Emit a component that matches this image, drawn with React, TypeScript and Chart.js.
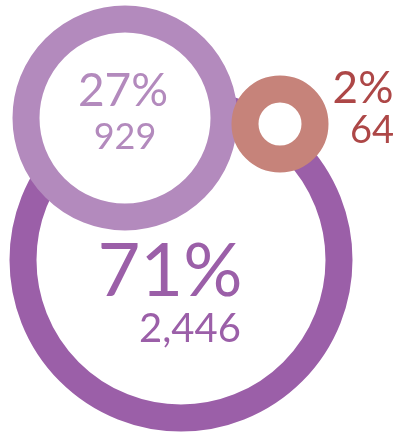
import React, { useEffect, useRef } from "react";
import { Chart, registerables } from "chart.js";

Chart.register(...registerables);

const categories = ["Group A", "Group B", "Group C"];
const counts = [2446, 929, 64];
const percents = [71, 27, 2];
const xPos = [181, 125, 280];
const yPos = [260, 118, 124];
const radii = [158, 99, 35];

const ringColors = ["#9b5fa8", "#b38abd", "#c6837a"];
const textColors = ["#9b5fa8", "#b38abd", "#ad4747"];

// label layout (baseline offsets): [dxPct, dyPct, sizePct, dxCount, dyCount, sizeCount]
const labelLayout = [
  [-11, 36, 74, 9, 82, 40],
  [-2, -12, 46, 0, 31, 36],
  [83, -21, 44, 92, 19, 38],
];

const labelPlugin = {
  id: "ringLabels",
  afterDatasetsDraw(chart: any) {
    const ctx = chart.ctx;
    const meta = chart.getDatasetMeta(0);
    meta.data.forEach((el: any, i: number) => {
      const [dx1, dy1, s1, dx2, dy2, s2] = labelLayout[i];
      ctx.save();
      ctx.fillStyle = textColors[i];
      ctx.textAlign = "center";
      ctx.textBaseline = "alphabetic";
      ctx.font = `${s1}px Lato, "Noto Sans", sans-serif`;
      ctx.fillText(`${percents[i]}%`, el.x + dx1, el.y + dy1);
      ctx.font = `${s2}px Lato, "Noto Sans", sans-serif`;
      ctx.fillText(counts[i].toLocaleString("en-US"), el.x + dx2, el.y + dy2);
      ctx.restore();
    });
  },
};

export default function App() {
  const ref = useRef<HTMLCanvasElement | null>(null);
  useEffect(() => {
    if (!ref.current) return;
    const chart = new Chart(ref.current, {
      type: "bubble",
      data: {
        labels: categories,
        datasets: [
          {
            data: categories.map((_, i) => ({ x: xPos[i], y: yPos[i], r: radii[i] })),
            backgroundColor: "#ffffff",
            borderColor: ringColors,
            borderWidth: 27,
            hoverBorderWidth: 27,
            clip: false as any,
          },
        ],
      },
      options: {
        animation: false,
        responsive: false,
        layout: { padding: 0, autoPadding: false },
        plugins: { legend: { display: false }, tooltip: { enabled: false } },
        events: [],
        scales: {
          x: { type: "linear", min: 0, max: 398, display: false },
          y: { type: "linear", min: 0, max: 434, reverse: true, display: false },
        },
      },
      plugins: [labelPlugin],
    });
    return () => chart.destroy();
  }, []);
  return (
    <div style={{ position: "absolute", left: 0, top: 0, width: 398, height: 434, overflow: "hidden", background: "#ffffff" }}>
      <canvas ref={ref} width={398} height={434} style={{ display: "block", width: 398, height: 434 }} />
    </div>
  );
}
